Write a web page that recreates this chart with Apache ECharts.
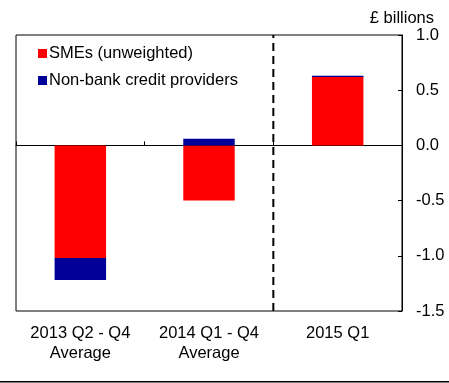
<!DOCTYPE html>
<html><head><meta charset="utf-8">
<script src="https://cdn.jsdelivr.net/npm/echarts@6/dist/echarts.min.js"></script>
<style>html,body{margin:0;padding:0;background:#fff}#c{width:449px;height:383px}</style>
</head><body><div id="c"></div>
<script>
var categories = ['2013 Q2 - Q4\nAverage', '2014 Q1 - Q4\nAverage', '2015 Q1'];
var smes = [-1.02, -0.50, 0.62];
var nonBank = [-0.20, 0.06, 0.01];
var yTicks = [-1.5, -1.0, -0.5, 0.0, 0.5, 1.0];
var dividerX = [2, 2];
var dividerY = [-1.5, 1.0];

var font = 'Arial, "Liberation Sans", sans-serif';
var fs = 16.5;
var chart = echarts.init(document.getElementById('c'), null, {renderer: 'canvas'});
chart.setOption({
  animation: false,
  backgroundColor: '#fff',
  title: {text: '£ billions', right: 15, top: 10, padding: 0, textStyle: {fontFamily: font, fontSize: fs, fontWeight: 'normal', color: '#000'}},
  legend: {
    orient: 'vertical', left: 33, top: 40, itemWidth: 9, itemHeight: 9, itemGap: 10,
    icon: 'rect', textStyle: {fontFamily: font, fontSize: fs, color: '#000', padding: [0,0,0,-3]},
    data: ['SMEs (unweighted)', 'Non-bank credit providers']
  },
  graphic: [{type: 'rect', left: 0, top: 381, shape: {width: 449, height: 1.5}, style: {fill: '#000'}, silent: true}],
  grid: {left: 16, right: 47, top: 35, bottom: 72, show: true, borderColor: '#000', borderWidth: 1, backgroundColor: 'transparent'},
  xAxis: [
    {type: 'category', data: categories, axisLine: {onZero: true, lineStyle: {color: '#000', width: 1}},
     axisTick: {show: true, inside: true, length: 4, lineStyle: {color: '#000'}}, axisLabel: {show: false}, splitLine: {show: false}},
    {type: 'category', data: categories, position: 'bottom', axisLine: {show: false, onZero: false}, axisTick: {show: false},
     axisLabel: {show: true, interval: 0, hideOverlap: false, margin: 12, fontFamily: font, fontSize: fs, color: '#000', lineHeight: 20}, splitLine: {show: false}},
    {type: 'value', min: 0, max: 3, show: false}
  ],
  yAxis: {
    type: 'value', position: 'right', min: yTicks[0], max: yTicks[yTicks.length-1], interval: 0.5,
    axisLine: {show: true, onZero: false, lineStyle: {color: '#000'}},
    axisTick: {show: true, inside: true, length: 4, lineStyle: {color: '#000'}},
    axisLabel: {margin: 14, fontFamily: font, fontSize: fs, color: '#000', formatter: function(v){return v.toFixed(1);}},
    splitLine: {show: false}
  },
  series: [
    {name: 'SMEs (unweighted)', type: 'bar', stack: 's', xAxisIndex: 0, data: smes, barWidth: '40%', itemStyle: {color: '#FF0000'}},
    {name: 'Non-bank credit providers', type: 'bar', stack: 's', xAxisIndex: 0, data: nonBank, barWidth: '40%', itemStyle: {color: '#000099'}},
    {name: 'divider', type: 'line', xAxisIndex: 2, data: [[dividerX[0], dividerY[0]], [dividerX[1], dividerY[1]]],
     symbol: 'none', lineStyle: {color: '#000', width: 2, type: [8, 5]}, z: 5, silent: true}
  ]
});
</script></body></html>
